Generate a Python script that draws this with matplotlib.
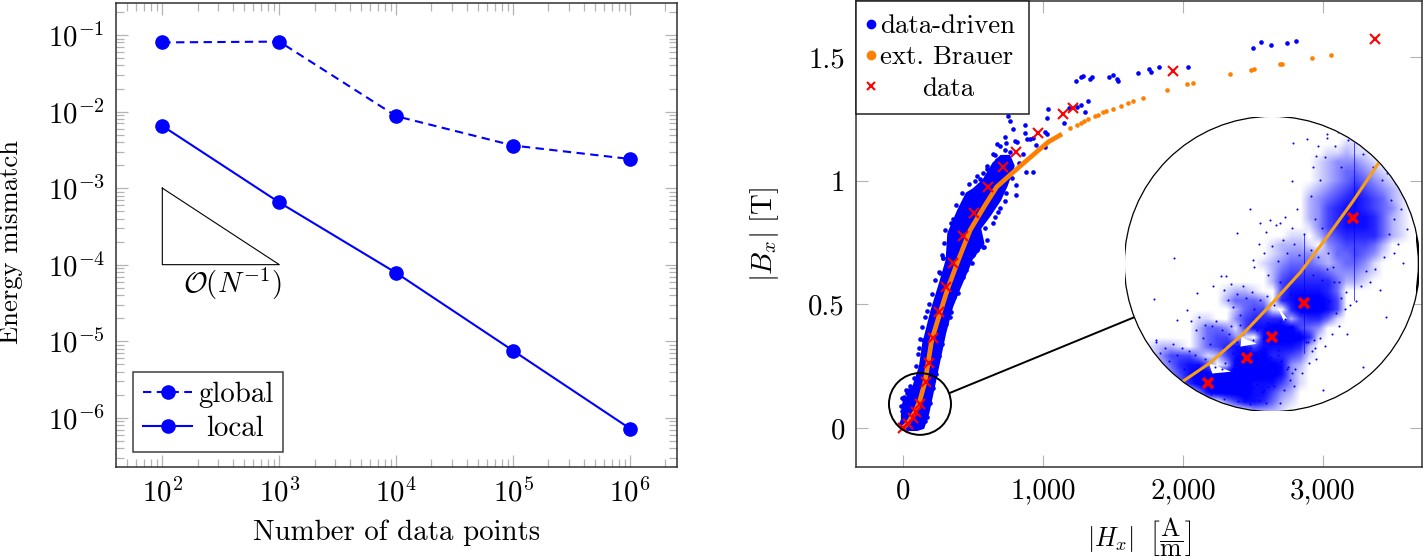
import numpy as np
import matplotlib
matplotlib.use('Agg')
import matplotlib.pyplot as plt
from matplotlib.colors import LinearSegmentedColormap
from matplotlib.lines import Line2D
from matplotlib.patches import Circle, Ellipse
from matplotlib.ticker import FixedLocator, FuncFormatter, NullFormatter

plt.rcParams['font.family'] = ['cmr10', 'DejaVu Sans']
plt.rcParams['mathtext.fontset'] = 'cm'
plt.rcParams['axes.formatter.use_mathtext'] = True
plt.rcParams['axes.unicode_minus'] = False

# --- left panel data ---
num_points = [1e2, 1e3, 1e4, 1e5, 1e6]
global_error = [8.0e-2, 8.2e-2, 8.7e-3, 3.6e-3, 2.4e-3]
local_error = [6.5e-3, 6.5e-4, 7.8e-5, 7.5e-6, 7.2e-7]
triangle_x = [1e2, 1e2, 1e3, 1e2]
triangle_y = [1e-3, 1e-4, 1e-4, 1e-3]
x_major = [1e2, 1e3, 1e4, 1e5, 1e6]
y_major = [1e-6, 1e-5, 1e-4, 1e-3, 1e-2, 1e-1]

# --- right panel data: measured points ---
data_H = [0, 38, 72, 93, 120, 162, 186, 217, 257, 307, 355, 426, 507, 610, 712, 805, 962, 1144, 1211, 1925, 3370]
data_B = [0, .015, .041, .063, .098, .187, .262, .363, .47, .572, .666, .776, .87, .973, 1.054, 1.115, 1.194, 1.27,
          1.293, 1.444, 1.572]

# extended Brauer, dense part as a line, sparse part as dots
brauer_line_H = [0, 36, 86, 121, 157, 179, 205, 264, 323, 395, 479, 586, 669, 764, 859, 955, 1038, 1121]
brauer_line_B = [0, .02, .065, .113, .186, .263, .356, .465, .57, .679, .80, .901, .975, 1.023, 1.07, 1.117, 1.157,
                 1.184]
brauer_dots_H = [1195, 1245, 1269, 1292, 1321, 1371, 1395, 1430, 1449, 1502, 1554, 1609, 1645, 1711, 1883, 2030,
                 2073, 2335, 2485, 2509, 2692, 2704, 2920, 3056]
brauer_dots_B = [1.212, 1.225, 1.232, 1.24, 1.248, 1.26, 1.267, 1.277, 1.281, 1.291, 1.304, 1.314, 1.322, 1.335,
                 1.367, 1.39, 1.397, 1.432, 1.449, 1.452, 1.472, 1.473, 1.495, 1.508]

# data-driven cloud: outline of the solid band and the loose points around it
band_H = [-5, -8, 2, 35, 74, 121, 145, 205, 264, 312, 324, 395, 455, 502, 574, 645, 700, 760, 790, 740, 693, 621,
          550, 574, 490, 479, 407, 350, 300, 250, 205, 180, 145, 100, 35]
band_B = [.01, .05, .10, .13, .167, .248, .342, .477, .585, .679, .787, .881, .949, .965, 1.002, 1.07, 1.10, 1.10,
          1.06, .98, .922, .861, .807, .746, .682, .665, .57, .49, .383, .248, .127, .06, 0, -.008, -.008]
loose_H = [1233, 1269, 1288, 1335, 1352, 1471, 1497, 1530, 1535, 1676, 1759, 1773, 1830, 2035, 2501, 2556, 2630, 2742,
           2806, 1319, 1269, 1240, 1188, 1300, 1152, 1038, 1026, 1014, 1026, 871, 871, 764, 752, 788, 728, 669, 817,
           736, 883, 907, 931, 1014, 950, 878, 931, 807, 728, 807, 569, 514, 550, 602, 657, 669, 764, 728, 574, 657,
           681, 598, 355, 288, 586, -10, -9, 5, 25, 45, 9, 114, 395, 579, 169, 143, 264, 286, 493, 429, 336, 288, 243,
           207, 171,
           -14, -12, -4, 20, 50, 78, 95, 105, 118, 135, 160, 185, 210, 230, 255, 275, 290, 300, 340, 375, 420, 470,
           530, 600, 640, 690,
           160, 190, 215, 235, 255, 280, 310, 340, 365, 410, 450, 500, 520, 530, 600, 640, 690, 735, 780, 830, 860, 800]
loose_B = [1.405, 1.421, 1.424, 1.413, 1.418, 1.418, 1.428, 1.411, 1.402, 1.436, 1.452, 1.44, 1.461, 1.46, 1.537, 1.56,
           1.549, 1.557, 1.564, 1.322, 1.308, 1.297, 1.295, 1.277, 1.232, 1.292, 1.252, 1.198, 1.191, 1.225, 1.194,
           1.242, 1.261, 1.211, 1.175, 1.147, 1.157, 1.151, 1.167, 1.167, 1.171, 1.137, 1.144, 1.036, 1.035, .942,
           .919, .982, 1.03, 1.0, 1.009, 1.046, 1.104, 1.083, 1.117, 1.124, .733, .854, .874, .87, .847, .686, .807,
           .03, .07, .115, .14, .155, .127, .323, .547, .733, .474, .356, .627, .687, .667, .611, .449, .396, .316,
           .194, .045,
           .02, .09, .12, .155, .17, .2, .25, .3, .36, .41, .45, .5, .54, .6, .63, .7, .75, .8, .83, .9, .95, .985,
           1.02, 1.06, 1.11, 1.14,
           .03, .1, .16, .22, .29, .34, .42, .47, .53, .6, .64, .7, .76, .72, .76, .83, .89, .95, 1.01, 1.07, 1.11,
           1.16]

# --- zoom circle data, B in mT ---
zoom_data_H = [38, 72, 93, 120, 162]
zoom_data_mT = [15, 41, 63, 98, 187]
zoom_brauer_H = [17, 40, 68, 93, 117, 140, 162, 184]
zoom_brauer_mT = [17, 36, 66, 98, 130, 167, 204, 244]

# point density in the zoom circle, read by eye, 0 empty to 9 solid
density_rows = [
    '00000000000000000000000000000000',
    '00000000000000000000000000000000',
    '00000000000000000000000000000000',
    '00000000000000000000000011000000',
    '00000000000000000000001121100000',
    '00000000000000000000012333210000',
    '00000000000000000000012344321000',
    '00000000000000000000012345432100',
    '00000000000000000000123456543210',
    '00000000000000000000234567654210',
    '00000000000000000000235677654310',
    '00000000000000000000235677764210',
    '00000000000000000000135677764210',
    '00000000000000000011024566664210',
    '00000000000000001222103455542000',
    '00000000000000001233322445431000',
    '00000000000000012344432344310000',
    '00000000000000002455554333210000',
    '00000000000000002566666422100000',
    '00000000000122100577776400000000',
    '00000000000244430678887500000000',
    '00000000000024551068887500000000',
    '00000000110035666625664100000000',
    '00000000244315778885430000000000',
    '00000000245531078888610000000000',
    '00012210245677577776200000000000',
    '00013555312578886654100000000000',
    '00002467750288888732000000000000',
    '00000357888888888731000000000000',
    '00000046888888777531000000000000',
    '00000000378888775320000000000000',
    '00000000000357764210000000000000',
    '00000000000000222100000000000000',
]
density_left, density_right = -36.6, 215.3
density_bottom, density_top = -19, 297

# thin empty slits just under the Brauer curve
slit_H = [[39, 58, 42], [67, 80, 66], [97, 106, 103]]
slit_mT = [[36, 27, 25], [63, 56, 53], [96, 82, 80]]

streak_H = [163, 120]
streak_low_mT = [102, 46]
streak_high_mT = [265, 170]

speckle = [(-10, 50), (-6, 58), (-3, 46), (2, 52), (5, 38), (8, 56), (12, 44), (16, 52), (18, 30), (22, 48), (25, 20),
           (27, 44), (30, 34), (33, 12), (36, 40), (38, 26), (41, 4), (44, 32), (47, 17), (50, 30), (52, -2), (55, 24),
           (57, 8), (60, 26), (62, 14), (64, -4), (67, 21), (70, 5), (72, 18), (74, -7), (77, 10), (80, 14), (82, -3),
           (85, 6), (88, -6), (90, 11), (-2, 36), (10, 22), (20, 8), (30, -4),
           (24, 80), (28, 70), (31, 84), (34, 62), (36, 76), (40, 56), (42, 74), (45, 80), (47, 44), (50, 70), (53, 36),
           (56, 66), (58, 74), (60, 30), (63, 58), (66, 24), (68, 66), (72, 18), (74, 52), (77, 60), (80, 14), (83, 48),
           (86, 8), (88, 52), (92, 42), (95, 12), (98, 44), (100, 32), (103, 8), (106, 30), (108, 18), (110, 26),
           (112, 12), (96, 24), (52, 52), (60, 46), (70, 38), (80, 30),
           (52, 112), (55, 102), (58, 118), (60, 94), (63, 108), (66, 86), (68, 116), (71, 104), (73, 76), (76, 110),
           (80, 70), (83, 102), (86, 62), (89, 106), (92, 56), (95, 96), (98, 50), (101, 38), (104, 82), (107, 32),
           (110, 74), (113, 30), (116, 68), (119, 26), (122, 58), (125, 36), (127, 48), (129, 60), (131, 40), (66, 76),
           (78, 92), (90, 78), (104, 60),
           (78, 136), (82, 160), (86, 150), (88, 172), (90, 128), (93, 158), (96, 180), (98, 142), (100, 120),
           (102, 164), (104, 188), (106, 150), (108, 108), (110, 176), (112, 160), (114, 196), (116, 148), (118, 90),
           (120, 170), (122, 140), (124, 58), (126, 154), (128, 128), (130, 52), (132, 146), (134, 62), (136, 122),
           (138, 54), (140, 134), (142, 100), (144, 66), (146, 120), (148, 88), (150, 74), (152, 104), (155, 92),
           (157, 66), (100, 80), (112, 66),
           (126, 210), (128, 240), (130, 186), (132, 262), (134, 226), (136, 176), (138, 250), (140, 270), (141, 150),
           (143, 284), (145, 136), (147, 262), (149, 276), (150, 120), (152, 240), (154, 288), (156, 110), (158, 268),
           (160, 96), (162, 280), (165, 100), (167, 272), (169, 116), (171, 254), (173, 132), (175, 262), (177, 120),
           (179, 240), (181, 134), (183, 250), (185, 112), (187, 226), (189, 146), (191, 234), (193, 170), (195, 206),
           (197, 186), (199, 222), (201, 160), (203, 196), (205, 140), (208, 175), (210, 205), (198, 244), (194, 256),
           (74, 196), (91, 185), (100, 182), (63, 171), (49, 126), (29, 109), (20, 91), (12, 81), (-6, 60), (9, 145),
           (-8, 103), (111, 265), (123, 269), (140, 274), (131, 251), (83, 182), (77, 143), (54, 126), (43, 116),
           (110, 225), (197, 150), (190, 84), (171, 32), (137, 8), (100, -6)]

BLUE = '#0000ff'
ORANGE = '#ff8000'
TICK_GREY = '#b4b4b4'
FS = 20.8
LEG_FS = 19.4

fig = plt.figure(figsize=(14.23, 5.59), dpi=100)


def px_axes(x0, y0, x1, y1):
    # axes box given in picture pixels
    return fig.add_axes([x0 / 1423, (559 - y1) / 559, (x1 - x0) / 1423, (y1 - y0) / 559])


def log_label(v, pos):
    return rf'$10^{{{int(round(np.log10(v)))}}}$'


# --- Left panel ---
ax1 = px_axes(116, 3, 677, 467)
ax1.set_xscale('log')
ax1.set_yscale('log')
ax1.plot(num_points, global_error, color=BLUE, lw=1.5, ls=(0, (4, 2.6)), marker='o', ms=9.5, label='global')
ax1.plot(num_points, local_error, color=BLUE, lw=1.5, marker='o', ms=9.5, label='local')
ax1.plot(triangle_x, triangle_y, color='black', lw=0.8)
ax1.text(400, 5.6e-5, r'$\mathcal{O}(N^{-1})$', fontsize=FS, ha='center', va='center')
ax1.set_xlim(10 ** 1.604, 10 ** 6.4)
ax1.set_ylim(10 ** -6.643, 10 ** -0.582)
ax1.xaxis.set_major_locator(FixedLocator(x_major))
ax1.yaxis.set_major_locator(FixedLocator(y_major))
ax1.xaxis.set_major_formatter(FuncFormatter(log_label))
ax1.yaxis.set_major_formatter(FuncFormatter(log_label))
x_minor = [m * 10.0 ** e for e in range(1, 7) for m in range(2, 10)]
y_minor = [m * 10.0 ** e for e in range(-7, 0) for m in range(2, 10)]
ax1.xaxis.set_minor_locator(FixedLocator([v for v in x_minor if 10 ** 1.604 < v < 10 ** 6.4]))
ax1.yaxis.set_minor_locator(FixedLocator([v for v in y_minor if 10 ** -6.643 < v < 10 ** -0.582]))
ax1.xaxis.set_minor_formatter(NullFormatter())
ax1.yaxis.set_minor_formatter(NullFormatter())
ax1.tick_params(which='major', direction='in', length=8.6, width=0.9, color=TICK_GREY, top=True, right=True,
                labelsize=FS, pad=8)
ax1.tick_params(which='minor', direction='in', length=5.6, width=0.9, color=TICK_GREY, top=True, right=True)
for s in ax1.spines.values():
    s.set_linewidth(1.1)
    s.set_color('#303030')
ax1.set_xlabel('Number of data points', fontsize=FS, va='center')
ax1.xaxis.set_label_coords(0.5, -0.142)
ax1.set_ylabel('Energy mismatch', fontsize=19.2, va='center')
ax1.yaxis.set_label_coords(-0.187, 0.485)
leg1 = ax1.legend(loc='lower left', bbox_to_anchor=(17 / 561, 15 / 464), borderaxespad=0,
                  fontsize=FS, frameon=True, fancybox=False, framealpha=1, edgecolor='#404040', handlelength=1.7,
                  borderpad=0.35, labelspacing=0.25, handletextpad=0.2)
leg1.get_frame().set_linewidth(1.1)
leg1.get_texts()[1].set_position((8, 0))

# --- Right panel ---
ax2 = px_axes(856, 1, 1422, 467)
ax2.fill(band_H, band_B, facecolor=BLUE, edgecolor=BLUE, lw=1.6, joinstyle='round', zorder=2)
ax2.scatter(loose_H, loose_B, s=11, color=BLUE, linewidths=0, zorder=2)
ax2.plot(brauer_line_H, brauer_line_B, color=ORANGE, lw=3.4, zorder=3)
ax2.scatter(brauer_dots_H, brauer_dots_B, s=11, color=ORANGE, linewidths=0, zorder=3)
ax2.plot(data_H, data_B, ls='none', marker='x', ms=6.5, mew=1.5, color='red', zorder=4)
ax2.set_xlim(-336, 3707)
ax2.set_ylim(-0.158, 1.727)
ax2.xaxis.set_major_locator(FixedLocator([0, 1000, 2000, 3000]))
ax2.xaxis.set_major_formatter(FuncFormatter(lambda v, pos: f'{v:,.0f}'))
ax2.yaxis.set_major_locator(FixedLocator([0, 0.5, 1, 1.5]))
ax2.yaxis.set_major_formatter(FuncFormatter(lambda v, pos: f'{v:g}'))
ax2.tick_params(direction='in', length=8.6, width=0.8, color=TICK_GREY, top=True, right=True, labelsize=FS, pad=8)
for s in ax2.spines.values():
    s.set_linewidth(1.1)
    s.set_color('#303030')
ax2.set_xlabel(r'$|H_x|\ \ \left[\dfrac{\mathrm{A}}{\mathrm{m}}\right]$', fontsize=18.6, va='center')
ax2.xaxis.set_label_coords(0.5, -0.151)
ax2.set_ylabel(r'$|B_x|\ [\mathrm{T}]$', fontsize=FS, va='center')
ax2.yaxis.set_label_coords(-0.162, 0.5)

# small circle and connector
ax2.add_patch(Ellipse((121, 0.097), 443, 0.25, fc='none', ec='black', lw=1.4, zorder=5))
ax2.plot([336, 1657], [0.142, 0.449], color='black', lw=1.4, zorder=5)

handles = [Line2D([], [], ls='none', marker='o', ms=7, mew=0, color=BLUE),
           Line2D([], [], ls='none', marker='o', ms=7, mew=0, color=ORANGE),
           Line2D([], [], ls='none', marker='x', ms=6, mew=1.5, color='red')]
leg2 = ax2.legend(handles, ['data-driven', 'ext. Brauer', 'data'], loc='upper left', bbox_to_anchor=(0, 1),
                  borderaxespad=0, fontsize=LEG_FS, frameon=True, fancybox=False, framealpha=1, edgecolor='#202020',
                  handlelength=0.15, borderpad=0.5, labelspacing=0.27, handletextpad=0.24)
leg2.get_frame().set_linewidth(1.1)
leg2.get_texts()[2].set_position((42, 0))
leg2.set_zorder(6)

# --- Zoom circle ---
ax3 = px_axes(1125, 117, 1419, 411)
ax3.set_axis_off()
ax3.patch.set_alpha(0)
circle = Circle((0.5, 0.5), 0.5, transform=ax3.transAxes, fc='white', ec='black', lw=1.8, zorder=1)
ax3.add_patch(circle)
density = np.array([[int(c) for c in row] for row in density_rows])
white_blue = LinearSegmentedColormap.from_list('white_blue', ['white', '#b8b8ff', '#7070ff', '#3030ff', BLUE])
drawn = [ax3.imshow(density, cmap=white_blue, vmin=0, vmax=7.5, aspect='auto', interpolation='bilinear', zorder=2,
                    extent=(density_left, density_right, density_bottom, density_top))]
for hx, hy in zip(slit_H, slit_mT):
    drawn += ax3.fill(hx, hy, color='white', lw=0, zorder=2.5)
for x, lo, hi in zip(streak_H, streak_low_mT, streak_high_mT):
    drawn += ax3.plot([x, x], [lo, hi], color=BLUE, lw=0.6, alpha=0.8, zorder=2.6)
sp = np.array(speckle)
drawn.append(ax3.scatter(sp[:, 0], sp[:, 1], s=2.2, color=BLUE, linewidths=0, zorder=2.6))
drawn += ax3.plot(zoom_brauer_H, zoom_brauer_mT, color='#f8a010', lw=2.2, zorder=3)
drawn += ax3.plot(zoom_data_H, zoom_data_mT, ls='none', marker='x', ms=7.5, mew=2.6, color='red', zorder=4)
ax3.set_xlim(-32.6, 218.6)
ax3.set_ylim(-14, 292)
for artist in drawn:
    artist.set_clip_path(circle)

fig.savefig('out.png', dpi=100)
